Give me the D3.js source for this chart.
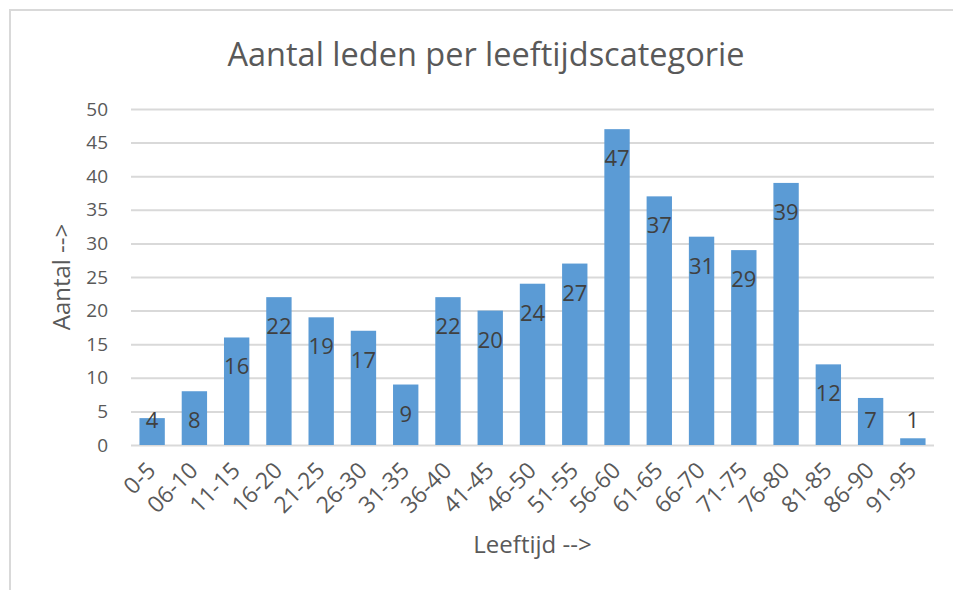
<!DOCTYPE html>
<html>
<head>
<meta charset="utf-8">
<script src="https://cdn.jsdelivr.net/npm/d3@7"></script>
<style>
  body { margin: 0; background: #fff; }
  svg { display: block; font-family: "Open Sans", sans-serif; }
</style>
</head>
<body>
<svg id="chart" width="953" height="590"></svg>
<script>
const categories = ["0-5", "06-10", "11-15", "16-20", "21-25", "26-30", "31-35", "36-40", "41-45",
    "46-50", "51-55", "56-60", "61-65", "66-70", "71-75", "76-80", "81-85", "86-90", "91-95"];
const counts = [4, 8, 16, 22, 19, 17, 9, 22, 20, 24, 27, 47, 37, 31, 29, 39, 12, 7, 1];
const yTicks = [0, 5, 10, 15, 20, 25, 30, 35, 40, 45, 50];

const svg = d3.select("#chart");
const margin = {left: 131, right: 19, top: 109, bottom: 145};
const W = 953, H = 590;
const textColor = "#595959";

// chart frame (only left/top edges are visible in the reference)
svg.append("path")
    .attr("d", `M10,${H} V10 H${W}`)
    .attr("fill", "none")
    .attr("stroke", "#d9d9d9")
    .attr("stroke-width", 2);

const x = d3.scaleBand()
    .domain(categories)
    .range([margin.left, W - margin.right])
    .paddingInner(0.4)
    .paddingOuter(0.2);

const y = d3.scaleLinear()
    .domain([0, 50])
    .range([H - margin.bottom, margin.top]);

// gridlines + y labels
const axisY = d3.axisLeft(y).tickValues(yTicks)
    .tickSize(-(W - margin.right - margin.left))
    .tickPadding(23);
const gy = svg.append("g")
    .attr("transform", `translate(${margin.left},0)`)
    .call(axisY);
gy.select(".domain").remove();
gy.selectAll(".tick line").attr("stroke", "#d9d9d9").attr("stroke-width", 2);
gy.selectAll(".tick text")
    .attr("fill", textColor)
    .attr("font-size", 19)
    .attr("font-family", "Open Sans");

// bars
svg.append("g").selectAll("rect")
    .data(counts)
    .join("rect")
    .attr("x", (d, i) => x(categories[i]))
    .attr("y", d => y(d))
    .attr("width", x.bandwidth())
    .attr("height", d => y(0) - y(d))
    .attr("fill", "#5b9bd5");

// data labels (inside end, pushed up when the bar is too short)
svg.append("g").selectAll("text")
    .data(counts)
    .join("text")
    .attr("x", (d, i) => x(categories[i]) + x.bandwidth() / 2)
    .attr("y", d => Math.min(y(d) + 37, y(0) - 17))
    .attr("text-anchor", "middle")
    .attr("fill", "#404040")
    .attr("font-size", 22)
    .text(d => d);

// x axis labels, rotated
const axisX = d3.axisBottom(x).tickSize(0).tickPadding(0);
const gx = svg.append("g")
    .attr("transform", `translate(0,${y(0)})`)
    .call(axisX);
gx.select(".domain").remove();
gx.selectAll(".tick text")
    .attr("fill", textColor)
    .attr("font-size", 23)
    .attr("font-family", "Open Sans")
    .attr("text-anchor", "end")
    .attr("dy", null)
    .attr("transform", "translate(5,27) rotate(-45)");

// titles
svg.append("text")
    .attr("x", 486).attr("y", 66)
    .attr("text-anchor", "middle")
    .attr("fill", textColor)
    .attr("font-size", 32.5)
    .text("Aantal leden per leeftijdscategorie");

svg.append("text")
    .attr("x", (margin.left + W - margin.right) / 2).attr("y", 553)
    .attr("text-anchor", "middle")
    .attr("fill", textColor)
    .attr("font-size", 24)
    .text("Leeftijd -->");

svg.append("text")
    .attr("transform", `translate(70,${(y(0) + y(50)) / 2}) rotate(-90)`)
    .attr("text-anchor", "middle")
    .attr("fill", textColor)
    .attr("font-size", 24)
    .text("Aantal -->");
</script>
</body>
</html>
